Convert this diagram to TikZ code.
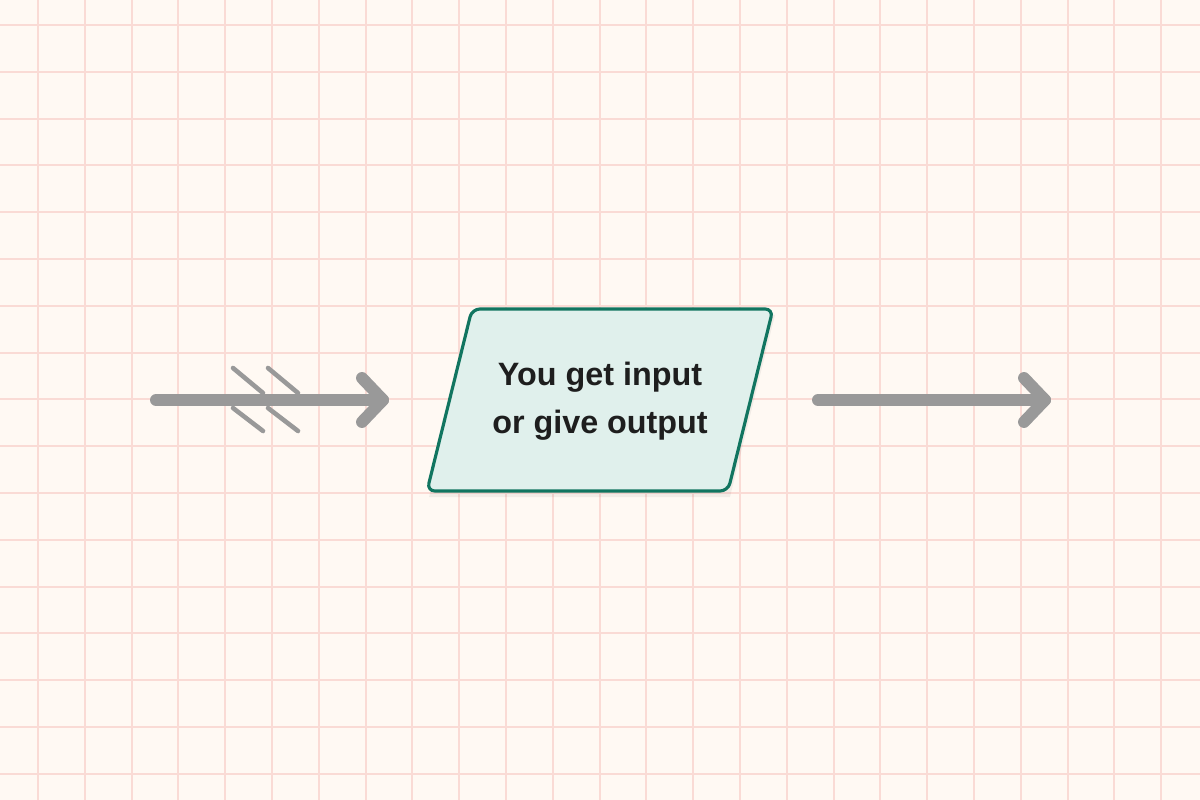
\documentclass[tikz,border=0pt]{standalone}
\usepackage{fontspec}
\setmainfont{Liberation Sans}
\usepackage{tikz}
\usetikzlibrary{positioning, arrows.meta}
\definecolor{paper}{RGB}{255,249,243}
\definecolor{gridpink}{RGB}{250,219,213}
\definecolor{iogreen}{RGB}{17,117,96}
\definecolor{iofill}{RGB}{224,240,236}
\definecolor{flowgray}{RGB}{153,153,153}
\definecolor{inktext}{RGB}{30,30,30}

\begin{document}
\begin{tikzpicture}[x=0.02cm, y=-0.02cm,
    gridline/.style={draw=gridpink, line width=1.15pt},
    iobox/.style={draw=iogreen, fill=iofill, line width=1.8pt, rounded corners=4.5pt, line join=round},
    iotext/.style={align=center, text=inktext, font=\bfseries\fontsize{18.4}{27}\selectfont},
    flow/.style={draw=flowgray, line width=6.8pt, line cap=round, line join=round},
    tailmark/.style={draw=flowgray, line width=2.6pt, line cap=round}
  ]
    \fill[paper] (0,0) rectangle (1200,800);
    \useasboundingbox (0,0) rectangle (1200,800);
    \foreach \x in {0,...,24} \draw[gridline] (38+46.8*\x,0) -- (38+46.8*\x,800);
    \foreach \y in {0,...,16} \draw[gridline] (0,25+46.8*\y) -- (1200,25+46.8*\y);

    \fill[black, opacity=0.05] (429,497) -- (474,315) -- (775,315) -- (730,497) -- cycle;
    \draw[iobox] (427,491) -- (472,309) -- (773,309) -- (728,491) -- cycle;
    \node[iotext] (io) at (600,401) {You get input\\or give output};

    \coordinate (src) at (156,400);
    \coordinate (inTip) at (383,400);
    \coordinate (outStart) at (818,400);
    \coordinate (outTip) at (1045,400);
    \draw[flow] (src) -- (inTip);
    \draw[flow] ([shift={(-21,-22)}]inTip) -- (inTip) -- ([shift={(-21,22)}]inTip);
    \foreach \dx in {0,35} {
      \draw[tailmark] (233+\dx,368) -- (263+\dx,393);
      \draw[tailmark] (233+\dx,408) -- (263+\dx,431);
    }
    \draw[flow] (outStart) -- (outTip);
    \draw[flow] ([shift={(-21,-22)}]outTip) -- (outTip) -- ([shift={(-21,22)}]outTip);
  \end{tikzpicture}
\end{document}
